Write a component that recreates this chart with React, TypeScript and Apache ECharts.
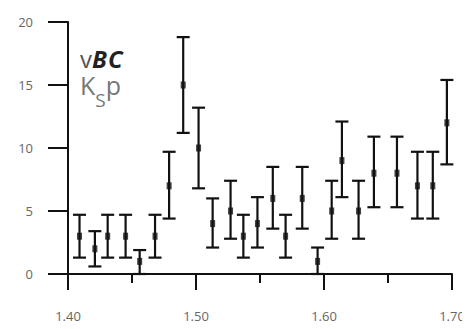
import React, { useEffect, useRef } from "react";
import * as echarts from "echarts";

const masses = [1.409, 1.421, 1.431, 1.445, 1.456, 1.468, 1.479, 1.490, 1.502, 1.513, 1.527, 1.537, 1.548, 1.560, 1.570, 1.583, 1.595, 1.606, 1.614, 1.627, 1.639, 1.657, 1.673, 1.685, 1.696];
const counts = [3, 2, 3, 3, 1, 3, 7, 15, 10, 4, 5, 3, 4, 6, 3, 6, 1, 5, 9, 5, 8, 8, 7, 7, 12];
const errLow = [1.3, 0.6, 1.3, 1.3, 0, 1.3, 4.4, 11.2, 6.8, 2.1, 2.8, 1.3, 2.1, 3.6, 1.3, 3.6, 0, 2.8, 6.1, 2.8, 5.3, 5.3, 4.4, 4.4, 8.7];
const errHigh = [4.7, 3.4, 4.7, 4.7, 1.9, 4.7, 9.7, 18.8, 13.2, 6.0, 7.4, 4.7, 6.1, 8.5, 4.7, 8.5, 2.1, 7.4, 12.1, 7.4, 10.9, 10.9, 9.7, 9.7, 15.4];
const xTicks = ["1.40", "1.50", "1.60", "1.70"];

const font = "'Open Sans', 'Noto Sans', sans-serif";

export default function App() {
  const ref = useRef<HTMLDivElement>(null);
  useEffect(() => {
    if (!ref.current) return;
    const chart = echarts.init(ref.current, null, { renderer: "svg" });
    chart.setOption({
      animation: false,
      grid: { left: 60, right: 18, top: 14, bottom: 55 },
      xAxis: {
        type: "value",
        min: 1.4,
        max: 1.7,
        interval: 0.1,
        splitLine: { show: false },
        axisLine: { show: true, onZero: false, lineStyle: { color: "#111", width: 2 } },
        axisTick: { show: true, length: 16, lineStyle: { color: "#111", width: 2 } },
        minorTick: { show: true, splitNumber: 2, length: 9, lineStyle: { color: "#111", width: 2 } },
        axisLabel: {
          margin: 35,
          color: "#666",
          fontSize: 13,
          fontFamily: font,
          formatter: (v: number) => {
            const t = v.toFixed(2);
            return xTicks.includes(t) ? t : "";
          },
        },
      },
      yAxis: {
        type: "value",
        min: 0,
        max: 20,
        interval: 5,
        splitLine: { show: false },
        axisLine: { show: true, onZero: false, lineStyle: { color: "#111", width: 2 } },
        axisTick: { show: true, length: 20, lineStyle: { color: "#111", width: 2 } },
        axisLabel: { margin: 35, color: "#666", fontSize: 13, fontFamily: font },
      },
      series: [
        {
          type: "custom",
          data: masses.map((m, i) => [m, errLow[i], errHigh[i]]),
          encode: { x: 0, y: [1, 2] },
          renderItem: (params: any, api: any) => {
            const x = api.value(0);
            const lo = api.coord([x, api.value(1)]);
            const hi = api.coord([x, api.value(2)]);
            const hw = 6.5;
            const st = { stroke: "#111", lineWidth: 2.2 };
            return {
              type: "group",
              children: [
                { type: "line", shape: { x1: lo[0], y1: lo[1], x2: hi[0], y2: hi[1] }, style: st },
                { type: "line", shape: { x1: hi[0] - hw, y1: hi[1], x2: hi[0] + hw, y2: hi[1] }, style: st },
                { type: "line", shape: { x1: lo[0] - hw, y1: lo[1], x2: lo[0] + hw, y2: lo[1] }, style: st },
              ],
            };
          },
          z: 2,
        },
        {
          type: "scatter",
          data: masses.map((m, i) => [m, counts[i]]),
          symbol: "rect",
          symbolSize: [5, 7],
          itemStyle: { color: "#111" },
          z: 3,
        },
      ],
    });
    return () => chart.dispose();
  }, []);
  return (
    <div style={{ position: "relative", width: 462, height: 321 }}>
      <div ref={ref} style={{ width: 462, height: 321 }} />
      <div
        style={{
          position: "absolute",
          left: 72,
          top: 39,
          fontFamily: font,
          fontSize: 24,
          lineHeight: "24px",
          whiteSpace: "nowrap",
          pointerEvents: "none",
        }}
      >
        <span style={{ color: "#555" }}>v</span>
        <span style={{ color: "#222", fontWeight: "bold", fontStyle: "italic", letterSpacing: 1 }}>BC</span>
      </div>
      <div
        style={{
          position: "absolute",
          left: 72,
          top: 65,
          fontFamily: font,
          fontSize: 25,
          lineHeight: "25px",
          color: "#777",
          whiteSpace: "nowrap",
          pointerEvents: "none",
        }}
      >
        K<span style={{ fontSize: 19, verticalAlign: -12 }}>S</span>p
      </div>
    </div>
  );
}
